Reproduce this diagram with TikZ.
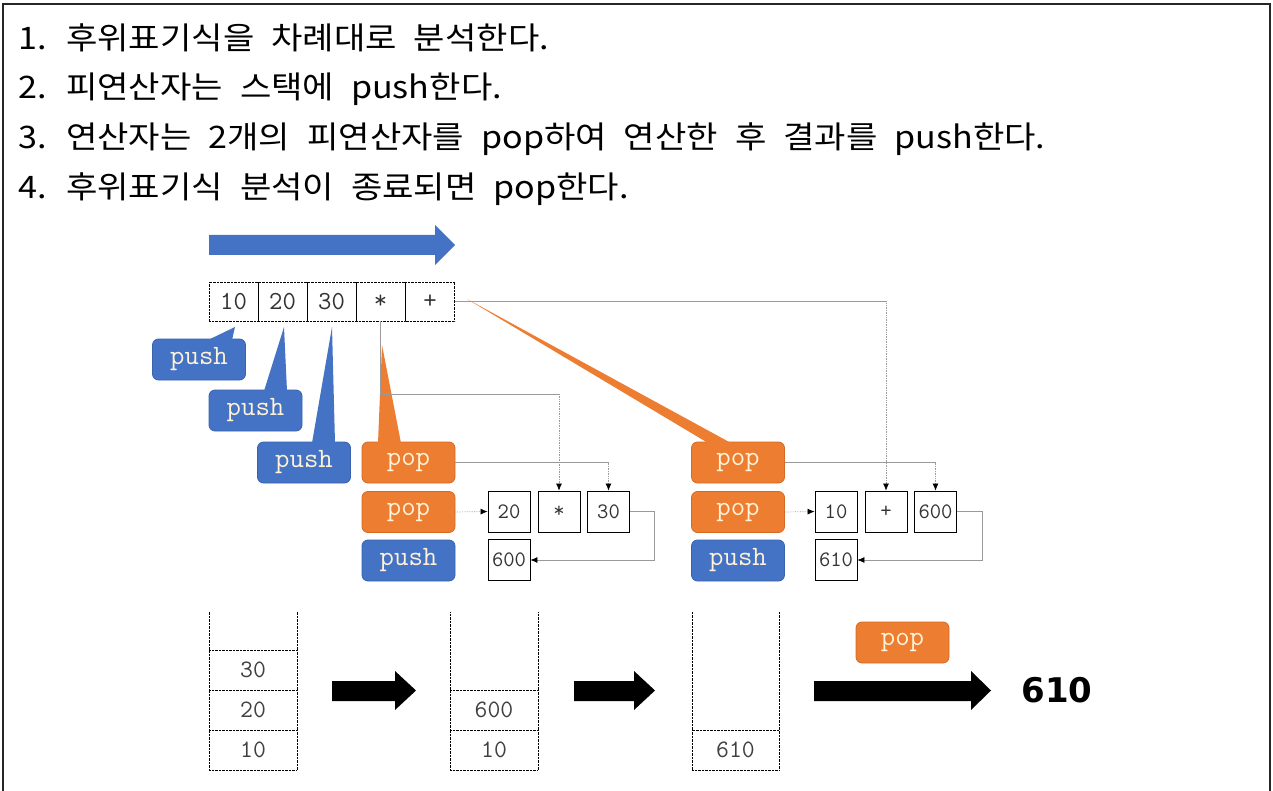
\documentclass[tikz,border=0pt]{standalone}
\usepackage{fontspec}
\newfontfamily\kr{Noto Sans CJK KR}[FakeStretch=1.1]
\newfontfamily\resfont{DejaVu Sans}
\usetikzlibrary{arrows.meta,calc}
\definecolor{oblue}{HTML}{4472C4}
\definecolor{oblueD}{HTML}{3A62AE}
\definecolor{oorange}{HTML}{ED7D31}
\definecolor{oorangeD}{HTML}{D46A24}
\definecolor{cream}{HTML}{FFF2D6}
\definecolor{lgray}{HTML}{9A9A9A}
\newcommand{\hnum}[1]{\makebox[31pt][l]{#1}}
\newcommand{\hdrfont}{\kr\fontsize{31}{31}\selectfont\spaceskip 17pt\relax}
\begin{document}
\begin{tikzpicture}[x=1pt,y=-1pt,
  hdr/.style={anchor=base west,inner sep=0pt,font=\hdrfont},
  tok/.style={draw,densely dotted,minimum width=49pt,minimum height=39pt,inner sep=0pt,text=black!80,font=\ttfamily\fontsize{26}{26}\selectfont},
  opbox/.style={draw,line width=0.8pt,minimum width=42pt,minimum height=41pt,inner sep=0pt,text=black!80,font=\ttfamily\fontsize{22}{22}\selectfont},
  stk/.style={draw,densely dotted,minimum width=88pt,minimum height=40pt,inner sep=0pt,text=black!75,font=\ttfamily\fontsize{25}{25}\selectfont},
  callb/.style={fill=oblue,draw=oblueD,line width=0.8pt,rounded corners=6pt,minimum width=93pt,minimum height=41pt,inner sep=0pt,text=cream,font=\ttfamily\fontsize{28}{28}\selectfont},
  callo/.style={callb,fill=oorange,draw=oorangeD},
  conn/.style={draw=lgray,line width=0.7pt},
  arr/.style={-{Latex[length=7pt,width=6pt,color=black]}},
  dots/.style={densely dotted}
]
\useasboundingbox (0,0) rectangle (1273,791);
% frame
\draw[line width=1.5pt,black!85] (3,791) -- (3,4) -- (1270,4) -- (1270,791);
% header text
\node[hdr] (l1) at (18,50) {\hnum{1.} 후위표기식을 차례대로 분석한다.};
\node[hdr] (l2) at (18,99) {\hnum{2.} 피연산자는 스택에 push한다.};
\node[hdr] (l3) at (18,149) {\hnum{3.} 연산자는 2개의 피연산자를 pop하여 연산한 후 결과를 push한다.};
\node[hdr] (l4) at (18,199) {\hnum{4.} 후위표기식 분석이 종료되면 pop한다.};
% blue direction arrow
\fill[oblue] (209,235) -- (435,235) -- (435,225) -- (455,245) -- (435,265) -- (435,255) -- (209,255) -- cycle;
% tokens
\node[tok] (t1) at (233.5,301.5) {10};
\node[tok] (t2) at (282.5,301.5) {20};
\node[tok] (t3) at (331.5,301.5) {30};
\node[tok] (t4) at (380.5,301.5) {*};
\node[tok] (t5) at (430,301.5) {+};
% callouts
\node[callb] (pu1) at (199,359.5) {push};
\node[callb] (pu2) at (255.5,410.5) {push};
\node[callb] (pu3) at (304,462.5) {push};
\node[callo] (po1) at (408.5,462.5) {pop};
\node[callo] (po2) at (408.5,512) {pop};
\node[callb] (pu4) at (408.5,560.5) {push};
\node[callo] (po3) at (738,462.5) {pop};
\node[callo] (po4) at (738,512) {pop};
\node[callb] (pu5) at (738,560.5) {push};
\node[callo] (po5) at (902.5,642.5) {pop};
% tails
\fill[oblue] (208,340) -- (235,327) -- (232,340) -- cycle;
\fill[oblue] (264,391) -- (284,327) -- (287,391) -- cycle;
\fill[oblue] (312,443) -- (332,327) -- (335,443) -- cycle;
\fill[oorange] (378,443) -- (382,345) -- (401,443) -- cycle;
\fill[oorange] (708,443) -- (467,299) -- (731,443) -- cycle;
% operation boxes group 1
\node[opbox] (g1a) at (509,511.5) {20};
\node[opbox] (g1b) at (559,511.5) {*};
\node[opbox] (g1c) at (608.5,511.5) {30};
\node[opbox] (g1d) at (509,560) {600};
% operation boxes group 2
\node[opbox] (g2a) at (836,511.5) {10};
\node[opbox] (g2b) at (886,511.5) {+};
\node[opbox] (g2c) at (935.5,511.5) {600};
\node[opbox] (g2d) at (836,560) {610};
% connectors group 1
\coordinate (k1) at (380.5,394);
\draw[conn] (t4.south) -- (k1) -- (k1 -| g1b.north);
\draw[conn,dots,arr] (k1 -| g1b.north) -- (g1b.north);
\draw[conn] (po1.east) -- (po1.east -| g1c.north);
\draw[conn,dots,arr] (po1.east -| g1c.north) -- (g1c.north);
\draw[conn,dots,arr] (po2.east) -- (g1a.west);
\draw[conn,arr] (g1c.east) -- ++(24.5,0) |- (g1d.east);
% connectors group 2
\draw[conn] (t5.east) -- (t5.east -| g2b.north);
\draw[conn,dots,arr] (t5.east -| g2b.north) -- (g2b.north);
\draw[conn] (po3.east) -- (po3.east -| g2c.north);
\draw[conn,dots,arr] (po3.east -| g2c.north) -- (g2c.north);
\draw[conn,dots,arr] (po4.east) -- (g2a.west);
\draw[conn,arr] (g2c.east) -- ++(25.5,0) |- (g2d.east);
% stacks
\node[stk] (s1c) at (253,750) {10};
\node[stk] (s1b) at (253,710) {20};
\node[stk] (s1a) at (253,670) {30};
\draw[dots] (s1a.north west) -- ++(0,-38);
\draw[dots] (s1a.north east) -- ++(0,-38);
\node[stk] (s2b) at (494,750) {10};
\node[stk] (s2a) at (494,710) {600};
\draw[dots] (s2a.north west) -- ++(0,-78);
\draw[dots] (s2a.north east) -- ++(0,-78);
\node[stk,minimum width=87pt] (s3a) at (735.5,750) {610};
\draw[dots] (s3a.north west) -- ++(0,-118);
\draw[dots] (s3a.north east) -- ++(0,-118);
% black arrows
\fill[black] (332,681) -- (395,681) -- (395,671) -- (416,690.5) -- (395,710) -- (395,701) -- (332,701) -- cycle;
\fill[black] (574,681) -- (634,681) -- (634,671) -- (655,690.5) -- (634,710) -- (634,701) -- (574,701) -- cycle;
\fill[black] (814,681) -- (971,681) -- (971,671) -- (991,690.5) -- (971,710) -- (971,701) -- (814,701) -- cycle;
% result
\node[font=\resfont\bfseries\fontsize{34}{34}\selectfont,inner sep=0pt] (res) at (1057,690) {610};
\end{tikzpicture}
\end{document}
